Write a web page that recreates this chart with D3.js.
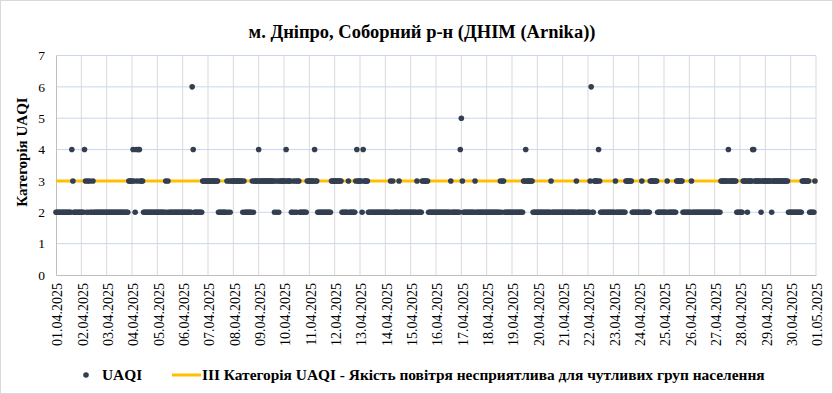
<!DOCTYPE html>
<html>
<head>
<meta charset="utf-8">
<script src="https://cdn.jsdelivr.net/npm/d3@7"></script>
<style>
  body { margin: 0; background: #fff; }
  svg { display: block; font-family: "Liberation Serif", "Times New Roman", serif; }
</style>
</head>
<body>
<svg id="chart" width="833" height="394"></svg>
<script>
// hourly UAQI category, one string of 24 hours per day (01.04 .. 30.04)
var uaqiByDay = [
    "222222222222222432222222", // 01.04
    "222432323223222222222222",
    "222222222222222222222333",
    "343243443332222222222222",
    "222222223232222222222222",
    "222222222642222222233333",
    "333333333322222222323233",
    "333333333232222222323333",
    "433333333333333232323333",
    "334333322323233222222233", // 10.04
    "333334332222222222222333",
    "333333322222232222223433",
    "332433332222222222222222",
    "222223232222232222222222",
    "222222322223333332222222",
    "222222222222223222222224",
    "532222222222232222222222",
    "222222222222232332222222",
    "222222222223343333332222",
    "222222222222232222222222", // 20.04
    "222222222222232222222222",
    "223622333343222222222222",
    "223222222222333333222222",
    "222322222223333333222222",
    "222322222222333333222222",
    "223222222222222222222222",
    "222222333333343333333222",
    "222333323333443333332333",
    "333333233333333333333322",
    "222222222223333333222223"  // 30.04
];

var dayLabels = ["01.04.2025", "02.04.2025", "03.04.2025", "04.04.2025", "05.04.2025",
    "06.04.2025", "07.04.2025", "08.04.2025", "09.04.2025", "10.04.2025",
    "11.04.2025", "12.04.2025", "13.04.2025", "14.04.2025", "15.04.2025",
    "16.04.2025", "17.04.2025", "18.04.2025", "19.04.2025", "20.04.2025",
    "21.04.2025", "22.04.2025", "23.04.2025", "24.04.2025", "25.04.2025",
    "26.04.2025", "27.04.2025", "28.04.2025", "29.04.2025", "30.04.2025",
    "01.05.2025"];

var yTicks = [0, 1, 2, 3, 4, 5, 6, 7];
var threshold = 3;

var title = "м. Дніпро, Соборний р-н (ДНІМ (Arnika))";
var yTitle = "Категорія UAQI";
var seriesName = "UAQI";
var thresholdName = "ІІІ Категорія UAQI - Якість повітря несприятлива для чутливих груп населення";

var svg = d3.select("#chart"),
    margin = {top: 55.5, right: 17, bottom: 119, left: 56},
    width = +svg.attr("width") - margin.left - margin.right,
    height = +svg.attr("height") - margin.top - margin.bottom;

var serif = "'Liberation Serif', 'Times New Roman', serif";
var dotColor = "#333f50", lineColor = "#ffc000";

function parseDay(s) {
    var p = s.split(".");
    return new Date(Date.UTC(+p[2], +p[1] - 1, +p[0]));
}

var days = dayLabels.map(parseDay);

var points = [];
uaqiByDay.forEach(function(str, i) {
    for (var h = 0; h < str.length; h++) {
        points.push({
            t: new Date(days[i].getTime() + h * 3600 * 1000),
            v: +str[h]
        });
    }
});

var x = d3.scaleUtc().domain([days[0], days[days.length - 1]]).range([0, width]),
    y = d3.scaleLinear().domain([0, 7]).range([height, 0]);

// chart border
svg.append("rect")
    .attr("x", 0.5).attr("y", 0.5)
    .attr("width", 832).attr("height", 393)
    .attr("fill", "#fff")
    .attr("stroke", "#d9d9d9");

svg.append("text")
    .attr("x", 422).attr("y", 38)
    .attr("text-anchor", "middle")
    .attr("font-family", serif)
    .attr("font-size", "18.5px")
    .attr("font-weight", "bold")
    .attr("fill", "#000")
    .text(title);

var g = svg.append("g")
    .attr("transform", "translate(" + margin.left + "," + margin.top + ")");

// horizontal gridlines
g.append("g")
    .selectAll("line")
    .data(yTicks.slice(1))
    .enter().append("line")
    .attr("x1", 0).attr("x2", width)
    .attr("y1", function(d) { return y(d); })
    .attr("y2", function(d) { return y(d); })
    .attr("stroke", "#c9d6ec")
    .attr("stroke-width", 1);

// vertical gridlines
g.append("g")
    .selectAll("line")
    .data(days.slice(1))
    .enter().append("line")
    .attr("x1", function(d) { return x(d); })
    .attr("x2", function(d) { return x(d); })
    .attr("y1", 0).attr("y2", height)
    .attr("stroke", "#d9d9d9")
    .attr("stroke-width", 1);

// axes
var xAxis = g.append("g")
    .attr("class", "axis axis--x")
    .attr("transform", "translate(0," + height + ")")
    .call(d3.axisBottom(x)
        .tickValues(days)
        .tickSize(0)
        .tickFormat(function(d, i) { return dayLabels[i]; }));

xAxis.select(".domain").attr("stroke", "#bfbfbf");
xAxis.selectAll("text")
    .attr("font-size", "14px")
    .attr("font-family", serif)
    .attr("fill", "#000")
    .attr("transform", "rotate(-90)")
    .attr("text-anchor", "end")
    .attr("x", -8)
    .attr("y", 1)
    .attr("dy", "0.35em");

var yAxis = g.append("g")
    .attr("class", "axis axis--y")
    .call(d3.axisLeft(y).tickValues(yTicks).tickSize(0).tickFormat(d3.format("d")));

yAxis.select(".domain").attr("stroke", "#bfbfbf");
yAxis.selectAll("text")
    .attr("font-size", "13.5px")
    .attr("font-family", serif)
    .attr("fill", "#000")
    .attr("x", -11);

svg.append("text")
    .attr("transform", "translate(27,152) rotate(-90)")
    .attr("text-anchor", "middle")
    .attr("font-family", serif)
    .attr("font-size", "15px")
    .attr("font-weight", "bold")
    .text(yTitle);

// threshold line
g.append("line")
    .attr("x1", 0).attr("x2", width)
    .attr("y1", y(threshold)).attr("y2", y(threshold))
    .attr("stroke", lineColor)
    .attr("stroke-width", 3);

g.selectAll(".dot")
    .data(points)
    .enter().append("circle")
    .attr("class", "dot")
    .attr("cx", function(d) { return x(d.t); })
    .attr("cy", function(d) { return y(d.v); })
    .attr("r", 2.8)
    .attr("fill", dotColor);

// legend
var lg = svg.append("g")
    .attr("font-family", serif)
    .attr("font-size", "15.4px")
    .attr("font-weight", "bold");
lg.append("circle").attr("cx", 86).attr("cy", 375).attr("r", 2.8).attr("fill", dotColor);
lg.append("text").attr("x", 102).attr("y", 380).text(seriesName);
lg.append("line")
    .attr("x1", 172).attr("x2", 201)
    .attr("y1", 375).attr("y2", 375)
    .attr("stroke", lineColor).attr("stroke-width", 3);
lg.append("text").attr("x", 202).attr("y", 380).text(thresholdName);
</script>
</body>
</html>
